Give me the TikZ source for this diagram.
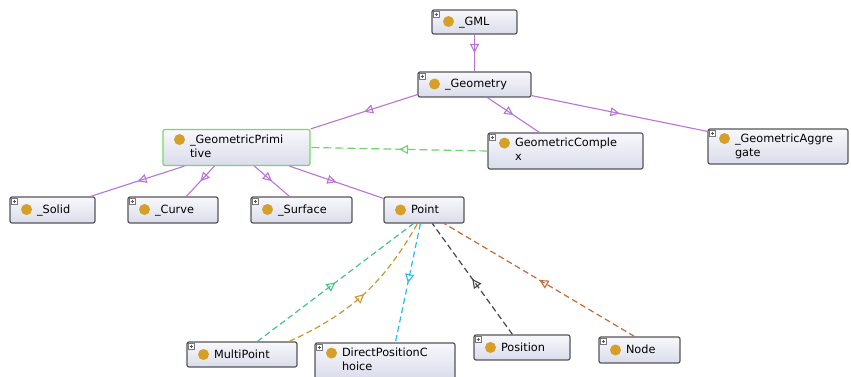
\documentclass[tikz,border=0pt]{standalone}
\usepackage{fontspec}
\setmainfont{DejaVu Sans}
\usetikzlibrary{arrows.meta,decorations.markings}
\definecolor{dotc}{RGB}{214,160,40}
\definecolor{boxborder}{RGB}{85,85,90}
\definecolor{boxtop}{RGB}{248,248,252}
\definecolor{boxbot}{RGB}{218,220,234}
\definecolor{primborder}{RGB}{110,220,100}
\definecolor{subcls}{RGB}{185,115,215}
\definecolor{cgreen}{RGB}{110,210,110}
\definecolor{mgreen}{RGB}{70,195,140}
\definecolor{morange}{RGB}{200,150,50}
\definecolor{mcyan}{RGB}{40,190,230}
\definecolor{mblack}{RGB}{70,70,70}
\definecolor{mbrown}{RGB}{200,105,55}
\newcommand{\owldot}{\tikz[baseline={(0pt,-3.8pt)}]\fill[dotc] (0pt,0pt) circle (5.5pt);\hspace{5pt}}
\newcommand{\twolines}[2]{\begin{tabular}[t]{@{}l@{}}#1\\#2\end{tabular}}
\tikzset{
  cls/.style={draw=boxborder, line width=1.2pt, rounded corners=2pt,
    top color=boxtop, bottom color=boxbot, inner xsep=11pt, inner ysep=1pt,
    align=left, font=\fontsize{11.3}{13.8}\selectfont},
  subline/.style={draw=subcls, line width=1.1pt},
  dashline/.style={line width=1.2pt, dash pattern=on 6pt off 3.5pt},
  midtip/.style={postaction={decorate}, decoration={markings,
    mark=at position #1 with {\arrow{Triangle[open,length=9pt,width=9pt,line width=1.1pt]}}}},
  midtip/.default=0.5,
  plusbox/.style={draw=boxborder!80, fill=white, line width=0.5pt}
}
\newcommand{\plusicon}[1]{%
  \draw[plusbox] ([shift={(2pt,-2pt)}]#1.north west) rectangle ([shift={(8pt,-8pt)}]#1.north west);
  \draw[boxborder, line width=0.6pt] ([shift={(3.3pt,-5pt)}]#1.north west) -- ([shift={(6.7pt,-5pt)}]#1.north west)
    ([shift={(5pt,-3.3pt)}]#1.north west) -- ([shift={(5pt,-6.7pt)}]#1.north west);}
\begin{document}
\begin{tikzpicture}[x=1pt,y=-1pt]
\useasboundingbox (0,0) rectangle (851,377);
% nodes
\node[cls, text width=63pt, minimum height=24pt] (gml) at (474.5,22) {\owldot\_GML};
\node[cls, text width=91pt, minimum height=25pt] (geometry) at (474.5,84.5) {\owldot\_Geometry};
\node[cls, draw=primborder, text width=125pt, minimum height=36pt] (prim) at (236.5,147.5) {\owldot\twolines{\_GeometricPrimi}{tive}};
\node[cls, text width=133pt, minimum height=36pt] (complex) at (565.5,151) {\owldot\twolines{GeometricComple}{x}};
\node[cls, text width=118pt, minimum height=35pt] (aggregate) at (778,146.5) {\owldot\twolines{\_GeometricAggre}{gate}};
\node[cls, text width=63pt, minimum height=26pt] (solid) at (52.5,210) {\owldot\_Solid};
\node[cls, text width=68pt, minimum height=26pt] (curve) at (173,210) {\owldot\_Curve};
\node[cls, text width=79pt, minimum height=26pt] (surface) at (301.5,210) {\owldot\_Surface};
\node[cls, text width=58pt, minimum height=26pt] (point) at (424,210) {\owldot Point};
\node[cls, text width=88pt, minimum height=25pt] (multipoint) at (242,354.5) {\owldot MultiPoint};
\node[cls, text width=118pt, minimum height=36pt] (dpc) at (385,361) {\owldot\twolines{DirectPositionC}{hoice}};
\node[cls, text width=74pt, minimum height=25pt] (position) at (522,347.5) {\owldot Position};
\node[cls, text width=59pt, minimum height=26pt] (nodecls) at (639.5,350) {\owldot Node};
\foreach \n in {gml,geometry,complex,aggregate,solid,curve,surface,multipoint,dpc,position,nodecls}{\plusicon{\n}}
% subclass edges
\draw[subline, midtip] (gml.south) -- (geometry.north);
\draw[subline, midtip] ([yshift=3pt]geometry.south west) -- (prim.north east);
\draw[subline, midtip] ([xshift=70pt]geometry.south west) -- ([xshift=52pt]complex.north west);
\draw[subline, midtip] ([yshift=2pt]geometry.south east) -- ([yshift=-3pt]aggregate.north west);
\draw[subline, midtip] ([xshift=22pt]prim.south west) -- ([xshift=-5pt]solid.north east);
\draw[subline, midtip] ([xshift=52pt]prim.south west) -- ([xshift=59pt]curve.north west);
\draw[subline, midtip] ([xshift=92pt]prim.south west) -- ([xshift=39pt]surface.north west);
\draw[subline, midtip] ([xshift=127pt]prim.south west) -- ([yshift=-2pt]point.north west);
% dashed relations
\draw[dashline, cgreen, dash pattern=on 8pt off 4pt, midtip] (complex.west) -- (prim.east);
\draw[dashline, mgreen, midtip] ([xshift=71pt]multipoint.north west) -- ([xshift=30pt]point.south west);
\draw[dashline, morange, midtip] ([xshift=103pt]multipoint.north west) to[bend right=18] ([xshift=34pt]point.south west);
\draw[dashline, mcyan, midtip] ([xshift=37pt]point.south west) -- ([xshift=81pt]dpc.north west);
\draw[dashline, mblack, midtip] ([xshift=39pt]position.north west) -- ([xshift=49pt]point.south west);
\draw[dashline, mbrown, midtip] ([xshift=36pt]nodecls.north west) -- ([xshift=61pt]point.south west);
\end{tikzpicture}
\end{document}
